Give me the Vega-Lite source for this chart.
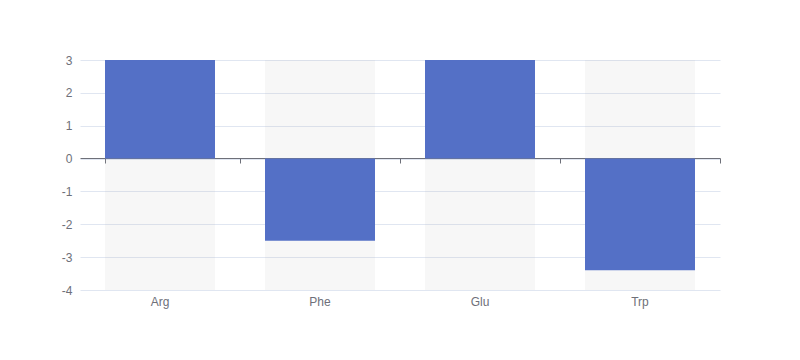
{
  "$schema": "https://vega.github.io/schema/vega-lite/v6.json",
  "autosize": {"type": "none"},
  "width": 640,
  "height": 230,
  "padding": {"left": 80, "top": 60, "right": 80, "bottom": 70},
  "background": "#ffffff",
  "config": {
    "view": {"stroke": null},
    "axis": {"labelFont": "sans-serif", "labelFontSize": 12, "labelColor": "#6E7079", "titleFont": "sans-serif"}
  },
  "data": {
    "values": [
      {"name": "Arg", "value": 3},
      {"name": "Phe", "value": -2.5},
      {"name": "Glu", "value": 3},
      {"name": "Trp", "value": -3.4}
    ]
  },
  "layer": [
    {
      "mark": {"type": "bar", "fill": "#B4B4B4", "fillOpacity": 0.1},
      "encoding": {
        "x": {
          "field": "name",
          "type": "nominal",
          "sort": null,
          "scale": {"paddingInner": 0.3125, "paddingOuter": 0.15625},
          "axis": {"orient": "bottom", "title": null, "domain": false, "ticks": false, "labelPadding": 6, "labelAngle": 0, "grid": false}
        },
        "y": {
          "datum": 3,
          "type": "quantitative",
          "scale": {"domain": [-4, 3], "nice": false, "zero": false},
          "axis": {
            "title": null,
            "domain": false,
            "ticks": false,
            "grid": true,
            "values": [-4, -3, -2, -1, 0, 1, 2, 3],
            "labelExpr": "'' + datum.value",
            "labelPadding": 8,
            "gridColor": "#E0E6F1",
            "gridWidth": 1
          }
        },
        "y2": {"datum": -4}
      }
    },
    {
      "mark": {"type": "bar", "color": "#5470C6"},
      "encoding": {
        "x": {
          "field": "name",
          "type": "nominal",
          "sort": null,
          "axis": {
            "orient": "top",
            "title": null,
            "labels": false,
            "offset": -98,
            "domain": true,
            "domainColor": "#6E7079",
            "ticks": true,
            "tickColor": "#6E7079",
            "tickSize": -5,
            "tickExtra": true,
            "bandPosition": 1.2273,
            "grid": false
          }
        },
        "y": {
          "field": "value",
          "type": "quantitative",
          "axis": {
            "title": null,
            "domain": false,
            "ticks": false,
            "grid": true,
            "values": [-4, -3, -2, -1, 0, 1, 2, 3],
            "labelExpr": "'' + datum.value",
            "labelPadding": 8,
            "gridColor": "#E0E6F1",
            "gridWidth": 1
          }
        },
        "y2": {"datum": 0}
      }
    }
  ],
  "resolve": {"axis": {"x": "independent"}}
}
